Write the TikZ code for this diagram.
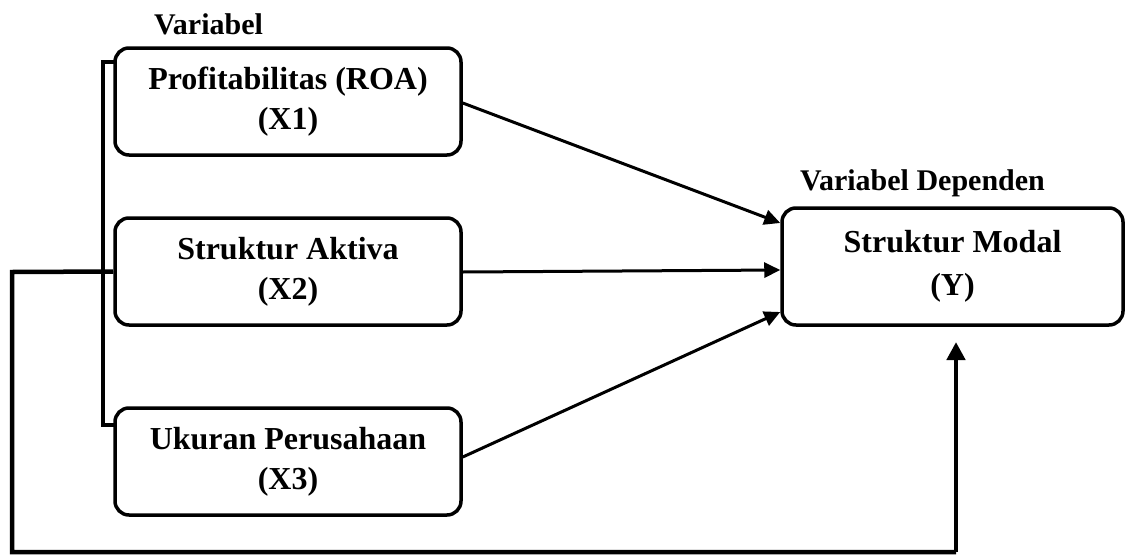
\documentclass[tikz,border=0pt]{standalone}
\usepackage{fontspec}
\setmainfont{Liberation Serif}
\usetikzlibrary{arrows.meta}
\begin{document}
\begin{tikzpicture}[x=1pt,y=-1pt,
  varbox/.style={draw,line width=3.5pt,rounded corners=14pt,minimum width=346pt,minimum height=107pt,align=center,font=\bfseries\fontsize{32}{40}\selectfont,inner sep=0pt},
  lbl/.style={font=\bfseries\fontsize{30}{34}\selectfont,inner sep=0pt},
  link/.style={line width=3pt,-{Triangle[length=16pt,width=15pt]}},
  thick line/.style={line width=4.5pt}]
\useasboundingbox (0,0) rectangle (1126,554);
\node[lbl] (v1) at (208.5,24) {Variabel};
\node[varbox] (x1) at (288,101.5) {Profitabilitas (ROA)\\(X1)};
\node[varbox] (x2) at (288,271.5) {Struktur Aktiva\\(X2)};
\node[varbox] (x3) at (288,461.5) {Ukuran Perusahaan\\(X3)};
\node[lbl] (v2) at (922.5,183.5) {Variabel Dependen};
\node[varbox,minimum width=341pt,minimum height=117pt,font=\bfseries\fontsize{32}{43}\selectfont] (y) at (952.5,266.5) {Struktur Modal\\(Y)};
\coordinate (bt) at (103,62);
\coordinate (bb) at (103,425);
\draw[thick line] ([xshift=3pt]x1.west |- bt) -- (bt) -- (bb) -- ([xshift=3pt]x3.west |- bb);
\coordinate (c1) at (12,272);
\coordinate (c2) at (12,552);
\coordinate (c3) at (956,552);
\coordinate (yt) at (956,342);
\draw[thick line] (x2.west) -- (c1) -- (c2) -- (c3);
\draw[thick line,-{Triangle[length=18pt,width=18pt]}] (c3) -- (yt);
\draw[link] ([yshift=-1.5pt]x1.east) -- ([yshift=43.5pt]y.west);
\draw[link] ([yshift=-0.5pt]x2.east) -- ([yshift=-3.5pt]y.west);
\draw[link] ([yshift=4.5pt]x3.east) -- ([yshift=-45.5pt]y.west);
\end{tikzpicture}
\end{document}
